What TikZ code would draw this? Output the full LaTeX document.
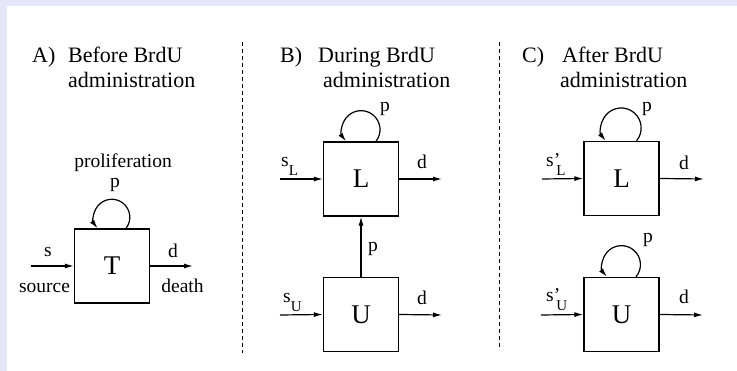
\documentclass[tikz,border=0pt]{standalone}
\usepackage{fontspec}
\setmainfont{Liberation Serif}
\usetikzlibrary{arrows.meta,calc}
\definecolor{lav}{RGB}{230,230,250}
\tikzset{
  box/.style={draw, line width=1.3pt, minimum width=75pt, minimum height=74pt, inner sep=0pt, font=\fontsize{27}{27}\selectfont},
  arr/.style={line width=1.2pt, -{Latex[length=9pt,width=5pt]}},
  lbl/.style={font=\fontsize{19.5}{20}\selectfont, inner sep=0pt},
  ttl/.style={font=\fontsize{22}{26}\selectfont, inner sep=0pt, anchor=base west},
  sepline/.style={line width=0.9pt, dash pattern=on 4pt off 3pt}
}
\newcommand{\subL}[1]{\raisebox{-9pt}{\fontsize{15}{15}\selectfont #1}}
\begin{document}
\begin{tikzpicture}[x=1pt,y=1pt]
\useasboundingbox (0,0) rectangle (737,371);
\fill[lav] (0,0) rectangle (737,371);
\fill[white] (7,0) rectangle (737,365);

% titles
\node[ttl] (tA) at (32,308) {A)};
\node[ttl] (tA1) at (68,308) {Before BrdU};
\node[ttl] (tA2) at (68,283) {administration};
\node[ttl] (tB) at (280,308) {B)};
\node[ttl] (tB1) at (318,308) {During BrdU};
\node[ttl] (tB2) at (323,283) {administration};
\node[ttl] (tC) at (522,308) {C)};
\node[ttl] (tC1) at (562,308) {After BrdU};
\node[ttl] (tC2) at (560,283) {administration};

% separators
\coordinate (d1a) at (242,329);
\coordinate (d1b) at (242,18);
\coordinate (d2a) at (499,329);
\coordinate (d2b) at (499,21);
\draw[sepline] (d1a) -- (d1b);
\draw[sepline] (d2a) -- (d2b);

% A
\node[box] (T) at (112,105) {T};
\coordinate (sTin) at (31,105);
\coordinate (dTout) at (193,105);
\draw[arr] (sTin) -- (T.west);
\draw[arr] (T.east) -- (dTout);
\draw[arr] ([xshift=14pt]T.north) arc[start angle=-38, end angle=218, radius=18pt];
\node[lbl] (pT) at (115,186) {p};
\node[lbl] (prolif) at (123,208) {proliferation};
\node[lbl] (sT) at (48,119) {s};
\node[lbl] (dT) at (173,120) {d};
\node[lbl, anchor=base] (src) at (44.5,78) {source};
\node[lbl, anchor=base] (dth) at (182.5,78) {death};

% B
\node[box] (BL) at (361,192) {L};
\node[box] (BU) at (361,56.5) {U};
\coordinate (sBLin) at (280,192);
\coordinate (dBLout) at (442,192);
\coordinate (sBUin) at (280,56);
\coordinate (dBUout) at (442,56);
\draw[arr] (sBLin) -- (BL.west);
\draw[arr] (BL.east) -- (dBLout);
\draw[arr] (sBUin) -- (BU.west);
\draw[arr] (BU.east) -- (dBUout);
\draw[arr] (BU.north) -- (BL.south);
\draw[arr] ([xshift=15pt]BL.north) arc[start angle=-38, end angle=218, radius=19pt];
\node[lbl] (pBL) at (385,262) {p};
\node[lbl] (pBV) at (373,122) {p};
\node[lbl, anchor=base west] (sBL) at (281,204) {s\subL{L}};
\node[lbl, anchor=base west] (sBU) at (283,68) {s\subL{U}};
\node[lbl] (dBL) at (422,209) {d};
\node[lbl] (dBU) at (422,73) {d};

% C
\node[box] (CL) at (621.5,192.5) {L};
\node[box] (CU) at (621.5,56.5) {U};
\coordinate (sCLin) at (542,192);
\coordinate (dCLout) at (704,192);
\coordinate (sCUin) at (541,56);
\coordinate (dCUout) at (703,56);
\draw[arr] (sCLin) -- (CL.west);
\draw[arr] (CL.east) -- (dCLout);
\draw[arr] (sCUin) -- (CU.west);
\draw[arr] (CU.east) -- (dCUout);
\draw[arr] ([xshift=15pt]CL.north) arc[start angle=-40, end angle=220, radius=20pt];
\draw[arr] ([xshift=14.5pt]CU.north) arc[start angle=-40, end angle=220, radius=19pt];
\node[lbl] (pCL) at (647,262) {p};
\node[lbl] (pCU) at (648,131) {p};
\node[lbl, anchor=base west] (sCL) at (546,204) {s\rlap{’}\subL{\,L}};
\node[lbl, anchor=base west] (sCU) at (546,69) {s\rlap{’}\subL{\,U}};
\node[lbl] (dCL) at (684,208) {d};
\node[lbl] (dCU) at (684,74) {d};
\end{tikzpicture}
\end{document}
